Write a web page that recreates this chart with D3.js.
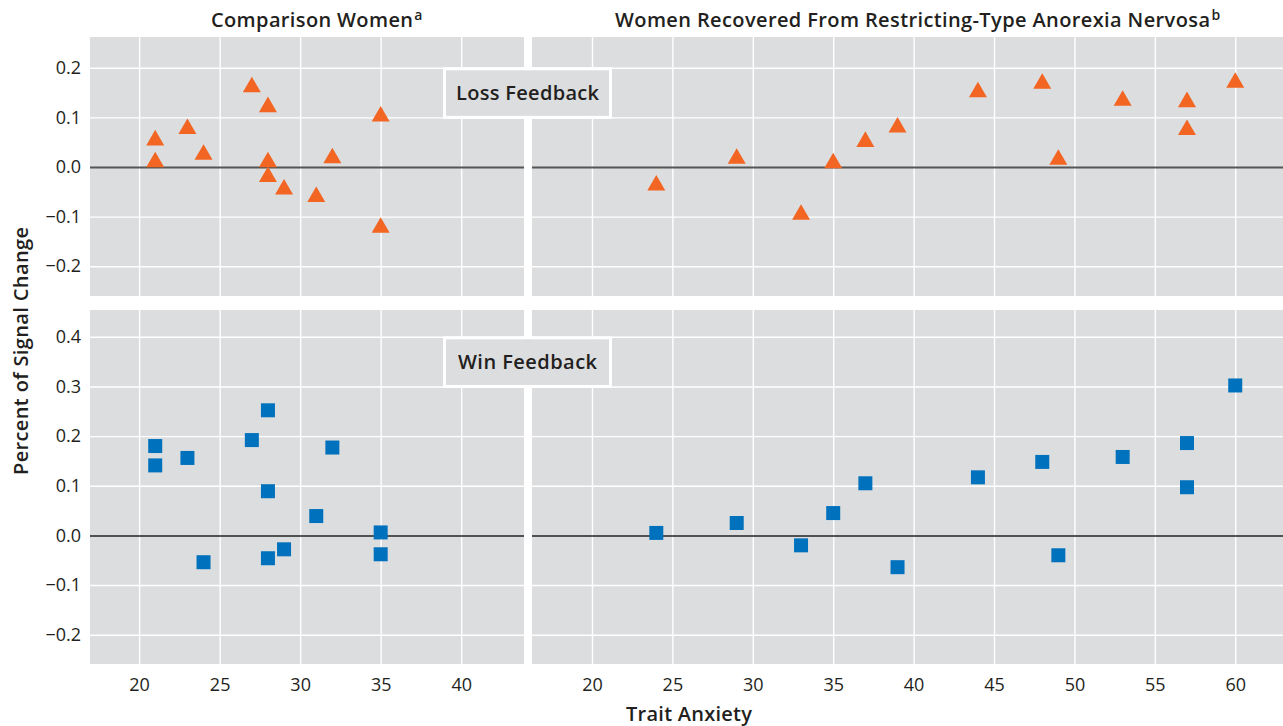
<!DOCTYPE html>
<html>
<head>
<meta charset="utf-8">
<script src="https://cdn.jsdelivr.net/npm/d3@7"></script>
<style>
  html, body { margin: 0; padding: 0; background: #ffffff; }
  svg { display: block; }
  text { font-family: "Open Sans", Lato, sans-serif; fill: #231f20; }
</style>
</head>
<body>
<svg id="chart" width="1283" height="726"></svg>
<script>
// ---------------- data ----------------
const panelTitles = ["Comparison Women", "Women Recovered From Restricting-Type Anorexia Nervosa"];
const panelSups = ["a", "b"];
const rowLabels = ["Loss Feedback", "Win Feedback"];
const xTicksLeft = [20, 25, 30, 35, 40];
const xTicksRight = [20, 25, 30, 35, 40, 45, 50, 55, 60];
const yTicksLoss = [-0.2, -0.1, 0.0, 0.1, 0.2];
const yTicksWin = [-0.2, -0.1, 0.0, 0.1, 0.2, 0.3, 0.4];
const xTitle = "Trait Anxiety";
const yTitle = "Percent of Signal Change";

// Comparison women
const compAnxiety = [21, 21, 23, 24, 27, 28, 28, 28, 29, 31, 32, 35, 35];
const compLoss    = [0.054, 0.010, 0.077, 0.025, 0.161, 0.121, 0.010, -0.020, -0.045, -0.060, 0.018, 0.102, -0.122];
const compWinAnx  = [21, 21, 23, 24, 27, 28, 28, 28, 29, 31, 32, 35, 35];
const compWin     = [0.180, 0.141, 0.156, -0.054, 0.192, 0.252, 0.089, -0.046, -0.028, 0.039, 0.177, 0.006, -0.038];

// Recovered AN women
const anAnxiety = [24, 29, 33, 35, 37, 39, 44, 48, 49, 53, 57, 57, 60];
const anLoss    = [-0.037, 0.017, -0.096, 0.008, 0.051, 0.080, 0.151, 0.168, 0.015, 0.134, 0.131, 0.075, 0.170];
const anWinAnx  = [24, 29, 33, 35, 37, 39, 44, 48, 49, 53, 57, 57, 60];
const anWin     = [0.005, 0.025, -0.020, 0.045, 0.105, -0.064, 0.117, 0.148, -0.040, 0.158, 0.186, 0.097, 0.302];

// ---------------- layout ----------------
const svg = d3.select("#chart");
const bg = "#dcdddf";
const orange = "#f26522";
const blue = "#0071bc";

const cols = [
  { x: d3.scaleLinear().domain([16.95, 43.9]).range([90, 524]), ticks: xTicksLeft },
  { x: d3.scaleLinear().domain([16.27, 62.97]).range([532, 1283]), ticks: xTicksRight }
];
const rows = [
  { y: d3.scaleLinear().domain([-0.26, 0.262]).range([296, 37]), ticks: yTicksLoss, zeroColor: "#555555", zeroW: 2 },
  { y: d3.scaleLinear().domain([-0.259, 0.454]).range([664, 310]), ticks: yTicksWin, zeroColor: "#222222", zeroW: 1.5 }
];

const series = [
  [ {xs: compAnxiety, ys: compLoss, shape: d3.symbolTriangle, size: 140, color: orange},
    {xs: anAnxiety, ys: anLoss, shape: d3.symbolTriangle, size: 140, color: orange} ],
  [ {xs: compWinAnx, ys: compWin, shape: d3.symbolSquare, size: 196, color: blue},
    {xs: anWinAnx, ys: anWin, shape: d3.symbolSquare, size: 196, color: blue} ]
];

rows.forEach((row, ri) => {
  cols.forEach((col, ci) => {
    const [x0, x1] = col.x.range();
    const [y1, y0] = row.y.range();
    const g = svg.append("g");
    g.append("rect").attr("x", x0).attr("y", y0).attr("width", x1 - x0).attr("height", y1 - y0).attr("fill", bg);

    g.append("g").attr("transform", `translate(0,${y1})`)
      .call(d3.axisBottom(col.x).tickValues(col.ticks).tickSize(-(y1 - y0)).tickFormat(""))
      .call(a => a.select(".domain").remove())
      .call(a => a.selectAll("line").attr("stroke", "#ffffff").attr("stroke-width", 1.4));
    g.append("g").attr("transform", `translate(${x0},0)`)
      .call(d3.axisLeft(row.y).tickValues(row.ticks).tickSize(-(x1 - x0)).tickFormat(""))
      .call(a => a.select(".domain").remove())
      .call(a => a.selectAll("line")
        .attr("stroke", d => d === 0 ? row.zeroColor : "#ffffff")
        .attr("stroke-width", d => d === 0 ? row.zeroW : 1.4));
  });
});

// feedback label boxes
const labelLen = [143, 139];
rowLabels.forEach((lab, ri) => {
  const y = rows[ri].y;
  const top = ri === 0 ? y(0.2) : y(0.4);
  const bot = ri === 0 ? y(0.1) : y(0.3);
  const cx = 527.5, w = 166;
  svg.append("rect").attr("x", cx - w / 2).attr("y", top + 1).attr("width", w).attr("height", bot - top - 1)
    .attr("fill", bg).attr("stroke", "#ffffff").attr("stroke-width", 3);
  svg.append("text").attr("x", cx).attr("y", (top + bot) / 2 + 7)
    .attr("text-anchor", "middle").attr("font-size", 20).attr("font-weight", 600)
    .attr("textLength", labelLen[ri]).attr("lengthAdjust", "spacing").text(lab);
});

// points
rows.forEach((row, ri) => {
  cols.forEach((col, ci) => {
    const s = series[ri][ci];
    svg.append("g").selectAll("path").data(s.xs.map((v, i) => [v, s.ys[i]])).join("path")
      .attr("transform", d => `translate(${col.x(d[0])},${row.y(d[1])})`)
      .attr("d", d3.symbol().type(s.shape).size(s.size))
      .attr("fill", s.color);
  });
});

// y tick labels
rows.forEach(row => {
  svg.append("g").attr("transform", `translate(90,0)`)
    .call(d3.axisLeft(row.y).tickValues(row.ticks).tickSize(0).tickPadding(9).tickFormat(d3.format(".1f")))
    .call(a => a.select(".domain").remove())
    .call(a => a.selectAll("text").attr("font-size", 18).attr("font-family", "Lato, sans-serif").attr("fill", "#2b2b2b"));
});
// x tick labels
cols.forEach(col => {
  svg.append("g").attr("transform", `translate(0,664)`)
    .call(d3.axisBottom(col.x).tickValues(col.ticks).tickSize(0).tickPadding(14).tickFormat(d3.format("d")))
    .call(a => a.select(".domain").remove())
    .call(a => a.selectAll("text").attr("font-size", 18).attr("font-family", "Lato, sans-serif").attr("fill", "#2b2b2b"));
});

// panel titles
const titleStart = [211, 615];
const titleLen = [202, 595];
panelTitles.forEach((t, i) => {
  const tx = svg.append("text").attr("x", titleStart[i]).attr("y", 26.5)
    .attr("font-size", 20).attr("font-weight", 600);
  tx.append("tspan").attr("textLength", titleLen[i]).attr("lengthAdjust", "spacing").text(t);
  tx.append("tspan").attr("dx", 1).attr("dy", -7).attr("font-size", 14).text(panelSups[i]);
});

// axis titles
svg.append("text").attr("x", 689).attr("y", 721).attr("text-anchor", "middle")
  .attr("font-size", 20).attr("font-weight", 600)
  .attr("textLength", 126).attr("lengthAdjust", "spacing").text(xTitle);
svg.append("text").attr("transform", "translate(28,351) rotate(-90)").attr("text-anchor", "middle")
  .attr("font-size", 20).attr("font-weight", 600)
  .attr("textLength", 248).attr("lengthAdjust", "spacing").text(yTitle);
</script>
</body>
</html>
